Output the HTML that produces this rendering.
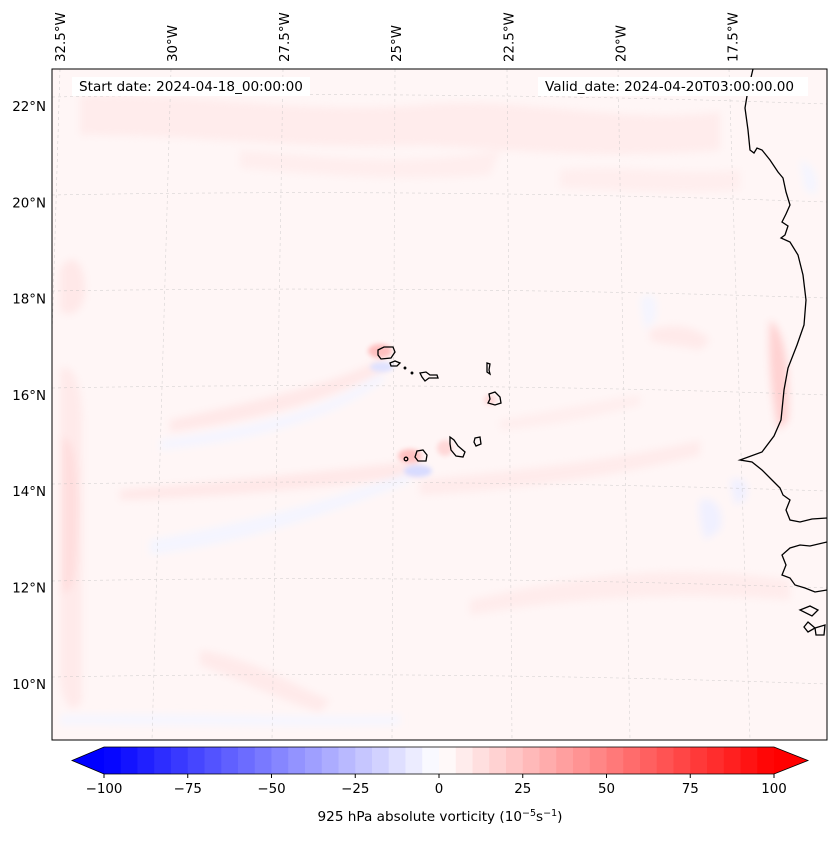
<!DOCTYPE html>
<html><head><meta charset="utf-8"><style>
body{margin:0;background:#fff;width:837px;height:839px;overflow:hidden;font-family:"Liberation Sans","DejaVu Sans",sans-serif}
</style></head><body>
<svg id="fig" width="837" height="839" xmlns="http://www.w3.org/2000/svg" font-family="DejaVu Sans, Liberation Sans, sans-serif">
<defs>
<clipPath id="mapclip"><rect x="52" y="69" width="775" height="671"/></clipPath>
<filter id="blur" x="-20%" y="-20%" width="140%" height="140%"><feGaussianBlur stdDeviation="4"/></filter>
<filter id="blur2"><feGaussianBlur stdDeviation="2.5"/></filter>
</defs>
<g id="map" clip-path="url(#mapclip)">
<rect x="52" y="69" width="775" height="671" fill="#fff6f6"/>
<g filter="url(#blur)">
<path d="M80,95 C200,92 300,115 420,105 C520,95 620,125 720,112 L720,150 C600,160 520,150 420,145 C300,150 200,135 80,135Z" fill="#ffecec"/>
<path d="M240,150 C350,160 420,165 500,150 L490,175 C400,182 320,175 240,168Z" fill="#ffeeee"/>
<path d="M560,170 C620,165 680,175 740,170 L740,190 C680,195 620,190 560,188Z" fill="#ffeeee"/>
<path d="M60,270 C70,250 85,260 85,290 C85,310 70,320 60,310Z" fill="#ffe8e8"/>
<path d="M60,370 C70,360 82,380 82,420 L82,700 C72,720 62,700 60,680Z" fill="#ffeaea"/>
<path d="M62,440 C70,430 80,460 78,520 C78,580 70,600 62,590Z" fill="#ffdede"/>
<path d="M120,490 C260,478 340,470 420,460 L420,475 C340,485 260,495 120,500Z" fill="#ffe8e8"/>
<path d="M170,420 C260,400 330,385 380,360 L385,370 C330,400 260,420 170,432Z" fill="#ffe8e8"/>
<path d="M160,440 C260,425 330,410 380,372 L385,380 C330,420 260,440 160,450Z" fill="#f5f5ff"/>
<path d="M150,540 C260,520 330,500 410,472 L410,482 C330,512 260,540 150,555Z" fill="#f4f5ff"/>
<path d="M200,650 C260,660 300,690 330,700 L320,712 C280,700 240,680 200,665Z" fill="#ffeaea"/>
<path d="M470,600 C560,580 660,560 790,580 L790,600 C660,590 560,600 470,615Z" fill="#ffecec"/>
<path d="M420,480 C520,470 620,460 700,440 L700,455 C620,475 520,490 420,495Z" fill="#ffebeb"/>
<path d="M500,420 C560,410 600,400 640,395 L640,405 C600,415 560,425 500,430Z" fill="#ffeeee"/>
<path d="M650,330 C680,320 700,330 710,340 L700,350 C680,345 660,345 650,340Z" fill="#ffeaea"/>
<path d="M770,320 C785,330 790,370 788,420 L778,430 C772,400 768,360 770,320Z" fill="#ffd2d2"/>
<path d="M700,500 C715,495 725,510 720,530 L705,540 C700,525 698,510 700,500Z" fill="#f0f0ff"/>
<path d="M730,480 C745,475 750,485 745,500 L735,505Z" fill="#f0f0ff"/>
<path d="M640,300 C650,290 660,295 655,320 L645,330Z" fill="#f4f5ff"/>
<path d="M60,715 C200,712 300,718 400,715 L400,725 C300,728 200,725 60,725Z" fill="#f6f6ff"/>
<path d="M800,160 C815,165 820,180 815,195 L805,190Z" fill="#f4f5ff"/>
</g>
<g filter="url(#blur2)">
<ellipse cx="380" cy="351" rx="12" ry="7" fill="#ffc0c0"/>
<ellipse cx="382" cy="367" rx="12" ry="5" fill="#dfe2ff"/>
<ellipse cx="410" cy="456" rx="12" ry="7" fill="#ffc2c2"/>
<ellipse cx="418" cy="471" rx="14" ry="6" fill="#d8dbff"/>
<ellipse cx="445" cy="448" rx="8" ry="8" fill="#ffd8d8"/>
<ellipse cx="490" cy="400" rx="6" ry="5" fill="#ffd8d8"/>
</g>
<g stroke="#bbb" stroke-width="0.6" stroke-dasharray="3,3" fill="none" opacity="0.6">
<path d="M52,97 Q440,90 827,104"/>
<path d="M52,195 Q440,188 827,202"/>
<path d="M52,291 Q440,285 827,298"/>
<path d="M52,388 Q440,381 827,395"/>
<path d="M52,484 Q440,478 827,491"/>
<path d="M52,581 Q440,574 827,588"/>
<path d="M52,677 Q440,670 827,684"/>
<path d="M60,69 L40,740"/>
<path d="M171,69 L152,740"/>
<path d="M283,69 L272,740"/>
<path d="M395,69 L392,740"/>
<path d="M507,69 L512,740"/>
<path d="M618,69 L630,740"/>
<path d="M729,69 L750,740"/>
</g>
<g stroke="#000" stroke-width="1.3" fill="none">
<path d="M753,69 L748,90 L745,108 L748,130 L750,150 L754,153 L757,148 L762,150 L770,160 L778,172 L783,178 L786,192 L790,205 L786,214 L782,222 L788,226 L785,235 L781,238 L790,242 L798,255 L803,275 L806,300 L804,325 L797,345 L788,368 L784,390 L781,420 L774,436 L762,452 L740,460 L752,462 L762,470 L772,480 L780,488 L783,495 L790,500 L786,510 L790,520 L800,522 L812,519 L827,518"/>
<path d="M827,542 L810,546 L800,545 L790,548 L782,555 L786,565 L782,575 L790,578 L795,585 L805,588 L815,592 L827,590"/>
<path d="M800,610 L810,606 L818,610 L812,616 Z M808,622 L815,628 L808,632 L804,627 Z M815,628 L825,625 L824,635 L816,635 Z"/>
</g>
<g stroke="#000" stroke-width="1.3" fill="none">
<path d="M378,350 L384,347 L393,347 L395,352 L391,358 L381,359 L378,355Z"/>
<path d="M390,363 L395,361 L400,363 L397,366 L391,366Z"/>
<circle cx="405" cy="368" r="0.8"/><circle cx="412" cy="373" r="0.8"/>
<path d="M420,373 L426,372 L430,375 L437,375 L438,378 L429,378 L425,381 L422,377Z"/>
<path d="M487,363 L490,364 L489,370 L490,374 L487,372Z"/>
<path d="M489,394 L495,392 L500,397 L501,403 L495,405 L488,403 L490,399Z"/>
<path d="M475,438 L480,437 L481,444 L476,446 L474,442Z"/>
<path d="M450,437 L454,440 L458,446 L465,452 L463,457 L456,456 L451,450 L450,444Z"/>
<path d="M417,451 L423,450 L427,455 L426,461 L418,461 L415,457Z"/>
<circle cx="406" cy="459" r="1.8"/>
</g>
<rect x="72" y="77" width="238" height="19" fill="#fff"/>
<text x="79" y="91" font-size="13.6" fill="#000">Start date: 2024-04-18_00:00:00</text>
<rect x="538" y="77" width="270" height="19" fill="#fff"/>
<text x="545" y="91" font-size="13.6" fill="#000">Valid_date: 2024-04-20T03:00:00.00</text>
</g>
<rect x="52" y="69" width="775" height="671" fill="none" stroke="#000" stroke-width="1"/>
<g id="latlabels" font-size="13.4" text-anchor="end"></g>
<g id="lonlabels" font-size="13.4"></g>
<g id="cbar"></g>
<text x="440" y="821" font-size="13.6" text-anchor="middle">925 hPa absolute vorticity (10<tspan baseline-shift="super" font-size="9.5">−5</tspan>s<tspan baseline-shift="super" font-size="9.5">−1</tspan>)</text>
</svg>
<script>
const latTicks = [22, 20, 18, 16, 14, 12, 10];
const lonTicks = [-32.5, -30, -27.5, -25, -22.5, -20, -17.5];
const cbarLevels = [-100,-95,-90,-85,-80,-75,-70,-65,-60,-55,-50,-45,-40,-35,-30,-25,-20,-15,-10,-5,0,5,10,15,20,25,30,35,40,45,50,55,60,65,70,75,80,85,90,95,100];
const cbarTicks = [-100, -75, -50, -25, 0, 25, 50, 75, 100];
const NS = 'http://www.w3.org/2000/svg';
function latY(lat){ return 106 + (22 - lat) * 48.15; }
function lonX(lon){ return 60 + (lon + 32.5) * 44.83; }
const cbX0 = 104, cbX1 = 774, cbY = 747, cbH = 27;
function cbScale(v){ return cbX0 + (v + 100) / 200 * (cbX1 - cbX0); }
function bwr(t){
  let r,g,b;
  if (t < 0.5){ const s = t/0.5; r = s; g = s; b = 1; }
  else { const s = (t-0.5)/0.5; r = 1; g = 1-s; b = 1-s; }
  return 'rgb(' + Math.round(r*255) + ',' + Math.round(g*255) + ',' + Math.round(b*255) + ')';
}
const latG = document.getElementById('latlabels');
latTicks.forEach(lat => {
  const t = document.createElementNS(NS, 'text');
  
  
  t.setAttribute('x', 46);
  t.setAttribute('y', latY(lat) + 5);
  t.textContent = lat + '°N';
  latG.appendChild(t);
});
const lonG = document.getElementById('lonlabels');
lonTicks.forEach(lon => {
  const t = document.createElementNS(NS, 'text');
  
  
  const x = lonX(lon) + 5;
  t.setAttribute('transform', 'translate(' + x + ',62) rotate(-90)');
  t.textContent = Math.abs(lon) + '°W';
  lonG.appendChild(t);
});
const cb = document.getElementById('cbar');
const n = cbarLevels.length - 1;
for (let i = 0; i < n; i++){
  const r = document.createElementNS(NS, 'rect');
  
  
  const x0 = cbScale(cbarLevels[i]), x1 = cbScale(cbarLevels[i+1]);
  r.setAttribute('x', x0); r.setAttribute('y', cbY);
  r.setAttribute('width', x1 - x0 + 0.5); r.setAttribute('height', cbH);
  r.setAttribute('fill', bwr((i + 0.5) / n));
  cb.appendChild(r);
}
const lt = document.createElementNS(NS, 'polygon');


lt.setAttribute('points', cbX0 + ',' + cbY + ' 72,' + (cbY + cbH/2) + ' ' + cbX0 + ',' + (cbY + cbH));
lt.setAttribute('fill', 'rgb(0,0,255)');
cb.appendChild(lt);
const rt = document.createElementNS(NS, 'polygon');


rt.setAttribute('points', cbX1 + ',' + cbY + ' 808,' + (cbY + cbH/2) + ' ' + cbX1 + ',' + (cbY + cbH));
rt.setAttribute('fill', 'rgb(255,0,0)');
cb.appendChild(rt);
const outline = document.createElementNS(NS, 'polygon');


outline.setAttribute('points', cbX0 + ',' + cbY + ' ' + cbX1 + ',' + cbY + ' 808,' + (cbY + cbH/2) + ' ' + cbX1 + ',' + (cbY + cbH) + ' ' + cbX0 + ',' + (cbY + cbH) + ' 72,' + (cbY + cbH/2));
outline.setAttribute('fill', 'none');
outline.setAttribute('stroke', '#000');
outline.setAttribute('stroke-width', '0.8');
cb.appendChild(outline);
cbarTicks.forEach(v => {
  const x = cbScale(v);
  const l = document.createElementNS(NS, 'line');
  
  
  l.setAttribute('x1', x); l.setAttribute('x2', x);
  l.setAttribute('y1', cbY + cbH); l.setAttribute('y2', cbY + cbH + 4);
  l.setAttribute('stroke', '#000');
  cb.appendChild(l);
  const t = document.createElementNS(NS, 'text');
  
  
  t.setAttribute('x', x); t.setAttribute('y', cbY + cbH + 19);
  t.setAttribute('font-size', '13.4');
  t.setAttribute('text-anchor', 'middle');
  t.textContent = v < 0 ? '−' + Math.abs(v) : String(v);
  cb.appendChild(t);
});
</script>
</body></html>
